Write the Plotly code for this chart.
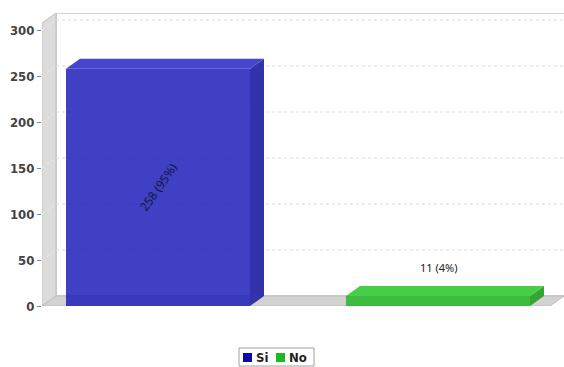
import plotly.graph_objects as go

# ---- data ----
categories = ["Si", "No"]
values = [258, 11]
labels = ["258 (95%)", "11 (4%)"]
tick_vals = [0, 50, 100, 150, 200, 250, 300]

# ---- styling / geometry (not data) ----
front_cols = ["rgba(30,30,186,0.85)", "rgba(40,185,40,0.88)"]
top_cols = ["rgb(70,70,205)", "rgb(72,205,72)"]
side_cols = ["rgb(50,50,170)", "rgb(50,165,50)"]
legend_cols = ["rgb(10,10,170)", "rgb(30,185,30)"]

W, H = 564, 367
L, R, T, B = 42, 564, 13, 306
px_per_x = 280.0
px_per_y = 0.92
x0 = -(158 - L) / px_per_x
x1 = x0 + (R - L) / px_per_x
ymax = (B - T) / px_per_y
dx = 14 / px_per_x
dy = 10 / px_per_y
bw = 184 / px_per_x


def px2paper_x(px):
    return (px - L) / (R - L)


def px2paper_y(py):
    return (B - py) / (B - T)


xs = list(range(len(categories)))

fig = go.Figure()

for i, (c, v) in enumerate(zip(categories, values)):
    fig.add_trace(go.Bar(
        x=[xs[i]], y=[v], width=bw, name=c,
        marker=dict(color=front_cols[i], line=dict(width=0)),
        hoverinfo="skip", showlegend=False,
    ))

# 3D top and side faces derived from the values
for i, v in enumerate(values):
    xl = xs[i] - bw / 2
    xr = xs[i] + bw / 2
    fig.add_trace(go.Scatter(
        x=[xr, xr + dx, xr + dx, xr, xr], y=[0, dy, v + dy, v, 0],
        fill="toself", fillcolor=side_cols[i], mode="lines",
        line=dict(width=0), hoverinfo="skip", showlegend=False))
    fig.add_trace(go.Scatter(
        x=[xl, xl + dx, xr + dx, xr, xl], y=[v, v + dy, v + dy, v, v],
        fill="toself", fillcolor=top_cols[i], mode="lines",
        line=dict(width=0), hoverinfo="skip", showlegend=False))

shapes = []
# back wall
shapes.append(dict(type="rect", xref="x", yref="y", x0=x0 + dx, x1=x1 + 0.01, y0=dy, y1=ymax,
                   line=dict(color="#c4c4c4", width=1.5), fillcolor="white", layer="below"))
# left wall
shapes.append(dict(type="path", xref="x", yref="y",
                   path=f"M {x0},0 L {x0+dx},{dy} L {x0+dx},{ymax} L {x0},{ymax-dy} Z",
                   fillcolor="#dcdcdc", line=dict(color="#c0c0c0", width=1), layer="below"))
# floor
shapes.append(dict(type="path", xref="x", yref="y",
                   path=f"M {x0},0 L {x1-dx},0 L {x1},{dy} L {x0+dx},{dy} Z",
                   fillcolor="#d2d2d2", line=dict(color="#bcbcbc", width=1), layer="below"))
# grid lines on back wall and wall diagonals
for v in tick_vals[1:]:
    shapes.append(dict(type="line", xref="x", yref="y", x0=x0 + dx, x1=x1, y0=v + dy, y1=v + dy,
                       line=dict(color="#dadada", width=1, dash="dot"), layer="below"))
    shapes.append(dict(type="line", xref="x", yref="y", x0=x0, x1=x0 + dx, y0=v, y1=v + dy,
                       line=dict(color="#ebebeb", width=1, dash="dot"), layer="below"))

annotations = [
    dict(x=xs[0], y=values[0] / 2, xref="x", yref="y", text=labels[0], showarrow=False,
         textangle=-55, font=dict(family="Noto Sans", size=12, color="#15153f")),
    dict(x=xs[1], y=values[1] + dy, xref="x", yref="y", text=labels[1], showarrow=False,
         yanchor="bottom", yshift=9, font=dict(family="Noto Sans", size=11, color="#222222")),
]

# custom legend (box, swatches, names)
leg_box = (239, 348, 314, 366)
shapes.append(dict(type="rect", xref="paper", yref="paper",
                   x0=px2paper_x(leg_box[0]), x1=px2paper_x(leg_box[2]),
                   y0=px2paper_y(leg_box[3]), y1=px2paper_y(leg_box[1]),
                   line=dict(color="#a0a0a0", width=1), fillcolor="white"))
swatch_x = [243, 276]
text_x = [254, 287]
for i, c in enumerate(categories):
    shapes.append(dict(type="rect", xref="paper", yref="paper",
                       x0=px2paper_x(swatch_x[i]), x1=px2paper_x(swatch_x[i] + 9),
                       y0=px2paper_y(362), y1=px2paper_y(353),
                       line=dict(width=0), fillcolor=legend_cols[i]))
    annotations.append(dict(x=px2paper_x(text_x[i]), y=px2paper_y(357.5), xref="paper", yref="paper",
                            text=c, showarrow=False, xanchor="left", yanchor="middle",
                            font=dict(family="DejaVu Sans Condensed", size=13, color="#222222",
                                      weight="bold")))

fig.update_layout(
    width=W, height=H,
    margin=dict(l=L, r=W - R, t=T, b=H - B, pad=0, autoexpand=False),
    paper_bgcolor="white", plot_bgcolor="white",
    barmode="overlay",
    shapes=shapes, annotations=annotations,
    xaxis=dict(range=[x0, x1], showgrid=False, zeroline=False, showticklabels=False,
               showline=False, ticks="", fixedrange=True, automargin=False),
    yaxis=dict(range=[0, ymax], tickvals=tick_vals, showgrid=False, zeroline=False,
               ticks="outside", ticklen=4, tickcolor="#888888", showline=False, automargin=False,
               tickfont=dict(family="DejaVu Sans Condensed", size=13, color="#444444", weight="bold")),
    showlegend=False,
)

fig.write_html("out.html", config={"displayModeBar": False},
               post_script="document.body.style.margin='0';document.body.style.overflow='hidden';")
